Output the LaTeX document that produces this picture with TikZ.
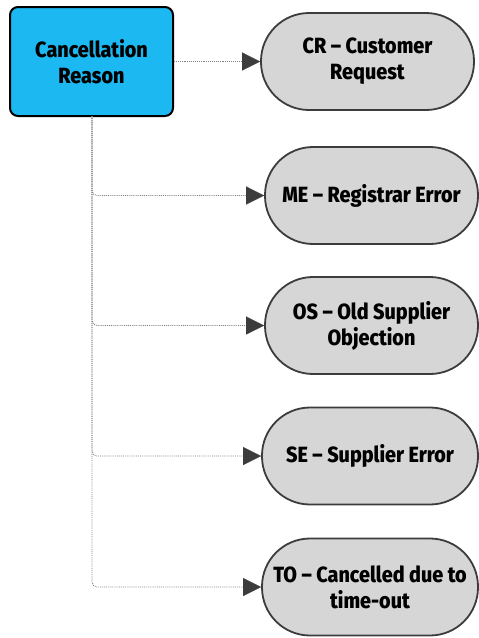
\documentclass[tikz,border=0pt]{standalone}
\usepackage{fontspec}
\setmainfont{Fira Sans}[FakeStretch=0.9,BoldFont={Fira Sans ExtraBold}]
\usetikzlibrary{arrows.meta}
\definecolor{boxblue}{HTML}{1CB8F2}
\definecolor{pillgrey}{HTML}{D6D6D6}
\definecolor{edgegrey}{HTML}{3C3C3C}
\definecolor{linkgrey}{HTML}{808080}
\begin{document}
\begin{tikzpicture}[x=1pt,y=-1pt,
  rootbox/.style={draw=black,line width=2pt,fill=boxblue,rounded corners=8pt,
    minimum width=163pt,minimum height=109pt,inner sep=0pt,align=center,
    font=\bfseries\fontsize{22}{26}\selectfont},
  pill/.style={draw=edgegrey,line width=1.8pt,fill=pillgrey,rounded corners=48pt,
    minimum height=97pt,inner sep=0pt,align=center,
    font=\bfseries\fontsize{22}{26}\selectfont},
  link/.style={draw=linkgrey,line width=0.9pt,densely dotted,rounded corners=5pt,
    -{Triangle[length=18pt,width=18pt,fill=edgegrey,color=edgegrey,line width=0.1pt]}}
]
\useasboundingbox (0,0) rectangle (479,638);
\node[rootbox] (root) at (91.5,61.5) {Cancellation\\Reason};
\node[pill,minimum width=213pt] (cr) at (367.5,61.5) {CR -- Customer\\Request};
\node[pill,minimum width=213pt] (me) at (371.5,195.5) {ME -- Registrar Error};
\node[pill,minimum width=213pt] (os) at (371.5,325.5) {OS -- Old Supplier\\Objection};
\node[pill,minimum width=216pt] (se) at (370,456) {SE -- Supplier Error};
\node[pill,minimum width=216pt] (to) at (370,587) {TO -- Cancelled due to\\time-out};
\coordinate (trunk) at (92,116);
\draw[link] (root.east) -- (cr.west);
\draw[link] (trunk) |- (me.west);
\draw[link] (trunk) |- (os.west);
\draw[link] (trunk) |- (se.west);
\draw[link] (trunk) |- (to.west);
\end{tikzpicture}
\end{document}
